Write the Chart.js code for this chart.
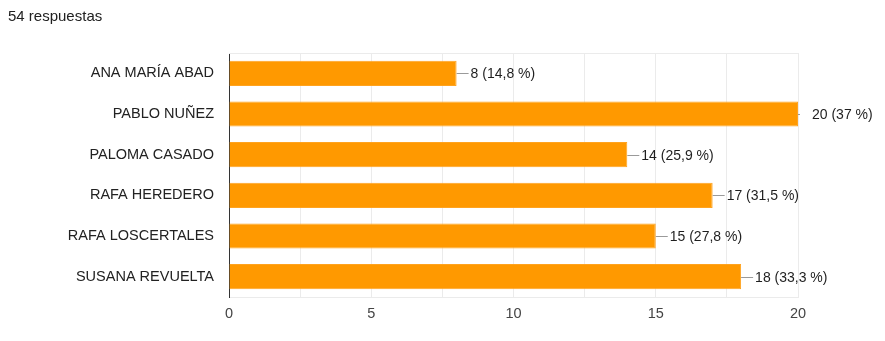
<!DOCTYPE html>
<html>
<head>
<meta charset="utf-8">
<script src="https://cdn.jsdelivr.net/npm/chart.js@4/dist/chart.umd.min.js"></script>
<style>
  html, body { margin: 0; padding: 0; background: #fff; }
  #wrap { position: relative; width: 885px; height: 341px; }
</style>
</head>
<body>
<div id="wrap"><canvas id="c" width="885" height="341"></canvas></div>
<script>
// Survey results: votes per candidate
const headline = '54 respuestas';
const totalResponses = 54;
const categories = ['ANA MARÍA ABAD', 'PABLO NUÑEZ', 'PALOMA CASADO', 'RAFA HEREDERO', 'RAFA LOSCERTALES', 'SUSANA REVUELTA'];
const votes = [8, 20, 14, 17, 15, 18];
const xTickLabels = [0, 5, 10, 15, 20];

const FONT = 'Arial, "Liberation Sans", sans-serif';

function pctLabel(v) {
  let p = (v / totalResponses * 100).toFixed(1).replace('.', ',');
  if (p.endsWith(',0')) p = p.slice(0, -2);
  return v + ' (' + p + ' %)';
}

// Headline text and the light frame around the plot
const framePlugin = {
  id: 'frame',
  beforeDatasetsDraw(chart) {
    const { ctx, chartArea: a } = chart;
    ctx.save();
    ctx.strokeStyle = '#ebebeb';
    ctx.lineWidth = 1;
    ctx.beginPath();
    ctx.moveTo(a.left, Math.round(a.top) + 0.5);
    ctx.lineTo(a.right, Math.round(a.top) + 0.5);
    ctx.stroke();
    ctx.restore();
  },
  afterDraw(chart) {
    const { ctx } = chart;
    ctx.save();
    ctx.font = '15px ' + FONT;
    ctx.fillStyle = '#212121';
    ctx.textAlign = 'left';
    ctx.textBaseline = 'middle';
    ctx.fillText(headline, 8, 17);
    ctx.restore();
  }
};

// Value labels with a short leader line past each bar end
const valueLabels = {
  id: 'valueLabels',
  afterDatasetsDraw(chart) {
    const { ctx, chartArea: a } = chart;
    const meta = chart.getDatasetMeta(0);
    ctx.save();
    ctx.font = '14px ' + FONT;
    ctx.textAlign = 'left';
    ctx.textBaseline = 'middle';
    meta.data.forEach((bar, i) => {
      const x = bar.x, y = Math.round(bar.y) + 0.5;
      const lineEnd = Math.min(x + 12, a.right + 2);
      if (lineEnd > x) {
        ctx.strokeStyle = '#9a9a9a';
        ctx.lineWidth = 1;
        ctx.beginPath();
        ctx.moveTo(x, y);
        ctx.lineTo(lineEnd, y);
        ctx.stroke();
      }
      ctx.fillStyle = '#1f1f1f';
      ctx.fillText(pctLabel(votes[i]), x + 14, bar.y + 1);
    });
    ctx.restore();
  }
};

new Chart(document.getElementById('c'), {
  type: 'bar',
  data: {
    labels: categories,
    datasets: [{
      data: votes,
      backgroundColor: '#ff9900',
      borderColor: '#ffa31f',
      borderWidth: 1,
      barPercentage: 0.62,
      categoryPercentage: 1.0
    }]
  },
  options: {
    indexAxis: 'y',
    responsive: false,
    animation: false,
    layout: { padding: { top: 53, right: 87, bottom: 0, left: 8 } },
    plugins: { legend: { display: false }, tooltip: { enabled: false }, title: { display: false } },
    scales: {
      x: {
        min: 0, max: 20,
        afterBuildTicks(scale) {
          const t = [];
          for (let v = 0; v <= 20; v += 2.5) t.push({ value: v });
          scale.ticks = t;
        },
        afterFit(scale) { scale.height = 44; },
        grid: { color: '#ebebeb', drawTicks: false, lineWidth: 1 },
        border: { color: '#ebebeb' },
        ticks: {
          padding: 8,
          color: '#444',
          font: { family: FONT, size: 14.5 },
          maxRotation: 0,
          autoSkip: false,
          callback: (v) => xTickLabels.includes(v) ? String(v) : ''
        }
      },
      y: {
        afterFit(scale) { scale.width = 221; },
        grid: { display: false, drawTicks: false },
        border: { color: '#333', width: 1 },
        ticks: {
          padding: 15,
          color: '#222',
          font: { family: FONT, size: 14.5 }
        }
      }
    }
  },
  plugins: [framePlugin, valueLabels]
});
</script>
</body>
</html>
